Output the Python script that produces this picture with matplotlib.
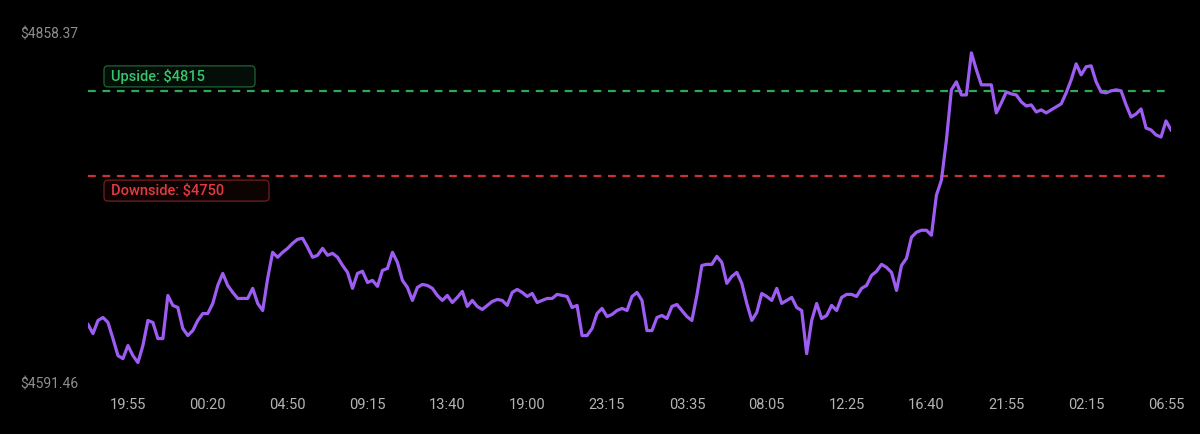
import matplotlib
matplotlib.use("Agg")
import matplotlib.pyplot as plt
from matplotlib.patches import FancyBboxPatch
from matplotlib.transforms import IdentityTransform
import numpy as np

# ---- data ----
prices = [
    4636.8, 4629.9, 4639.9, 4642.2, 4638.4, 4626.1, 4613.1, 4610.8, 4620.8, 4613.1,
    4607.8, 4620.8, 4639.9, 4638.4, 4626.1, 4626.1, 4659.0, 4651.4, 4649.8, 4633.8,
    4628.4, 4632.2, 4639.9, 4645.2, 4645.2, 4652.9, 4666.6, 4675.8, 4666.6, 4661.3,
    4656.7, 4656.7, 4656.7, 4664.4, 4652.9, 4647.5, 4672.0, 4691.9, 4688.1, 4691.9,
    4694.9, 4698.8, 4701.8, 4702.6, 4695.7, 4688.1, 4689.6, 4694.9, 4689.6, 4691.1,
    4688.1, 4681.9, 4676.6, 4664.4, 4675.8, 4677.4, 4668.9, 4670.5, 4665.9, 4678.1,
    4679.6, 4691.9, 4684.2, 4670.5, 4665.1, 4655.2, 4665.1, 4667.4, 4666.6, 4664.4,
    4659.0, 4655.2, 4659.0, 4653.6, 4657.5, 4662.1, 4650.6, 4655.2, 4650.6, 4648.3,
    4651.4, 4654.4, 4655.9, 4655.2, 4651.4, 4661.3, 4663.6, 4661.3, 4658.2, 4660.5,
    4653.6, 4655.2, 4656.7, 4656.7, 4659.8, 4659.0, 4658.2, 4649.8, 4651.4, 4628.4,
    4628.4, 4633.8, 4645.2, 4649.1, 4642.9, 4644.5, 4647.5, 4649.1, 4647.5, 4658.2,
    4661.3, 4655.2, 4632.2, 4632.2, 4642.2, 4643.7, 4641.4, 4650.6, 4652.1, 4647.5,
    4642.9, 4639.9, 4659.0, 4681.9, 4682.7, 4682.7, 4688.8, 4684.2, 4668.2, 4673.5,
    4676.6, 4668.2, 4652.9, 4639.9, 4646.0, 4660.5, 4658.2, 4655.2, 4664.4, 4652.9,
    4655.2, 4657.5, 4649.8, 4647.5, 4614.6, 4639.9, 4652.9, 4641.4, 4643.7, 4651.4,
    4647.5, 4657.5, 4659.8, 4659.8, 4658.2, 4664.4, 4666.6, 4674.3, 4677.4, 4682.7,
    4680.4, 4676.6, 4662.8, 4681.9, 4687.3, 4703.4, 4707.2, 4708.7, 4708.7, 4704.9,
    4735.5, 4746.9, 4777.5, 4815.8, 4821.9, 4811.9, 4811.9, 4844.0, 4831.1, 4819.6,
    4819.6, 4819.6, 4798.2, 4805.8, 4814.2, 4812.7, 4811.9, 4806.6, 4803.5, 4804.3,
    4798.9, 4800.5, 4798.2, 4800.5, 4802.8, 4805.1, 4813.5, 4823.4, 4835.6, 4827.2,
    4833.4, 4834.1, 4821.9, 4814.2, 4813.5, 4815.0, 4815.8, 4815.0, 4804.3, 4795.1,
    4797.4, 4801.2, 4786.7, 4785.2, 4781.4, 4779.8, 4792.1, 4785.2,
]
tick_labels = ["19:55", "00:20", "04:50", "09:15", "13:40", "19:00", "23:15",
               "03:35", "08:05", "12:25", "16:40", "21:55", "02:15", "06:55"]
tick_index = [8, 24, 40, 56, 72, 88, 104, 120, 136, 152, 168, 184, 200, 216]
upside = 4815
downside = 4750
y_min = 4591.46
y_max = 4858.37

# ---- figure ----
W, H = 1200, 434
fig = plt.figure(figsize=(W / 100, H / 100), dpi=100, facecolor="black")
ax = fig.add_axes([88 / W, 1 - 384 / H, (1171 - 88) / W, (384 - 34) / H])
ax.set_facecolor("black")
for s in ax.spines.values():
    s.set_visible(False)

x = np.arange(len(prices))
ax.plot(x, prices, color="#9d5cf2", lw=2.3, solid_joinstyle="round", zorder=3)

ax.axhline(upside, color="#2fa957", lw=1.6, ls=(0, (3.5, 3)), zorder=2)
ax.axhline(downside, color="#c93333", lw=1.6, ls=(0, (3.5, 3)), zorder=2)

ax.set_xlim(0, len(prices) - 1)
ax.set_ylim(y_min, y_max)
ax.set_yticks([])
ax.set_xticks(tick_index)
ax.set_xticklabels(tick_labels, fontsize=10.5, color="#b4b4b4", family="Roboto")
ax.tick_params(axis="x", length=0, pad=10)

# y range labels
fig.text(20 / W, 1 - 34 / H, f"${y_max:.2f}", color="#8e8e8e", fontsize=10,
         family="Roboto", ha="left", va="center")
fig.text(20 / W, 1 - 384 / H, f"${y_min:.2f}", color="#8e8e8e", fontsize=10,
         family="Roboto", ha="left", va="center")

fig.canvas.draw()

def label_box(level, text, txt_color, edge, face, width, above):
    ly = ax.transData.transform((0, level))[1]
    h = 21
    y0 = ly + 4 if above else ly - 4 - h
    box = FancyBboxPatch((104, y0), width, h,
                         boxstyle="round,pad=0,rounding_size=4",
                         transform=IdentityTransform(), facecolor=face,
                         edgecolor=edge, lw=1.0, zorder=5)
    fig.add_artist(box)
    fig.text(111 / W, (y0 + h / 2) / H, text, color=txt_color, fontsize=10.5,
             family="Roboto", fontweight="medium", ha="left", va="center",
             zorder=6)

label_box(upside, f"Upside: ${upside}", "#38c46c", "#1d5a33", "#040d07", 151, True)
label_box(downside, f"Downside: ${downside}", "#e23a40", "#6a1c20", "#0d0303", 165, False)

fig.savefig("out.png", dpi=100, facecolor="black")
